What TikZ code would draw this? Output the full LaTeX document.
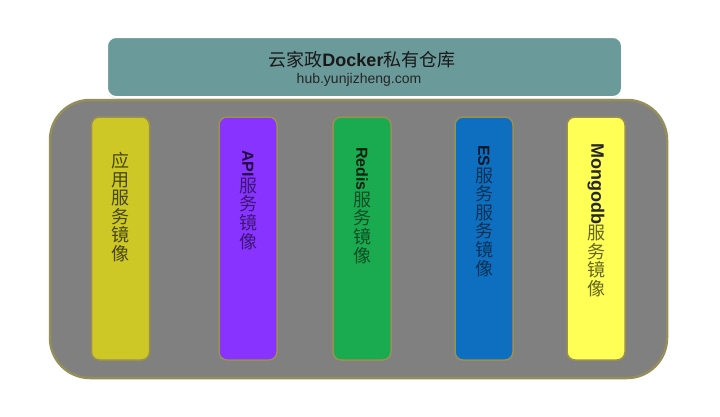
\documentclass[tikz,border=0pt]{standalone}
\usepackage{fontspec}
\usepackage{graphicx}
\newfontfamily\cjk{Noto Sans CJK SC}
\newfontfamily\lat{Liberation Sans}
\usetikzlibrary{shadows}
\definecolor{topfill}{HTML}{6A9A9A}
\definecolor{outfill}{HTML}{808080}
\definecolor{outline}{HTML}{948F5A}
\definecolor{cA}{HTML}{CDC825}
\definecolor{cB}{HTML}{8833FF}
\definecolor{cC}{HTML}{1AAB50}
\definecolor{cD}{HTML}{0E6FC0}
\definecolor{cE}{HTML}{FFFF55}
\definecolor{barline}{HTML}{9A9050}
\tikzset{
  topbox/.style={draw=white, line width=2pt, fill=topfill, rounded corners=9pt,
    minimum width=515pt, minimum height=60pt, inner sep=0pt,
    drop shadow={shadow xshift=0pt, shadow yshift=-1.5pt, fill=black!25, opacity=0.6}},
  outerbox/.style={draw=outline, line width=2.5pt, fill=outfill, rounded corners=40pt,
    minimum width=617pt, minimum height=278pt, inner sep=0pt},
  bar/.style={draw=barline, line width=1.5pt, rounded corners=8pt,
    minimum width=58pt, minimum height=243pt, inner sep=0pt},
  vlabel/.style={anchor=north, align=center, inner sep=0pt,
    font=\cjk\fontsize{18}{18.6}\selectfont},
}
\newcommand{\lrot}[1]{\rotatebox{-90}{\lat\bfseries\fontsize{16}{16}\selectfont #1}}
\begin{document}
\begin{tikzpicture}[x=1pt,y=-1pt]
\useasboundingbox[fill=white] (0,0) rectangle (720,416);
\node[outerbox] (outer) at (358.5,239) {};
\node[topbox] (top) at (364.5,67) {};
\node[font=\cjk\fontsize{18}{20}\selectfont, text=black!90, inner sep=0pt] (title) at (362,60)
  {云家政{\lat\bfseries Docker}私有仓库};
\node[font=\lat\fontsize{14}{16}\selectfont, text=black!85, inner sep=0pt] (sub) at (359,80)
  {hub.yunjizheng.com};

\node[bar, fill=cA] (b1) at (120.5,238.5) {};
\node[bar, fill=cB] (b2) at (248,238.5) {};
\node[bar, fill=cC] (b3) at (362,238.5) {};
\node[bar, fill=cD] (b4) at (484,238.5) {};
\node[bar, fill=cE] (b5) at (596,238.5) {};

\node[vlabel, text=cA!35!black] (t1) at (120.5,152)
  {应\\用\\服\\务\\镜\\像};
\node[vlabel, text=cB!45!black] (t2) at (248,150)
  {{\color{cB!25!black}\lrot{API}}\\服\\务\\镜\\像};
\node[vlabel, text=cC!45!black] (t3) at (362,147)
  {{\color{cC!20!black}\lrot{Redis}}\\服\\务\\镜\\像};
\node[vlabel, text=cD!45!black] (t4) at (484,145)
  {{\color{cD!20!black}\lrot{ES}}\\服\\务\\服\\务\\镜\\像};
\node[vlabel, text=cE!40!black] (t5) at (596,143)
  {{\color{black!85}\rotatebox{-90}{\lat\bfseries\fontsize{18}{18}\selectfont Mongodb}}\\服\\务\\镜\\像};
\end{tikzpicture}
\end{document}
